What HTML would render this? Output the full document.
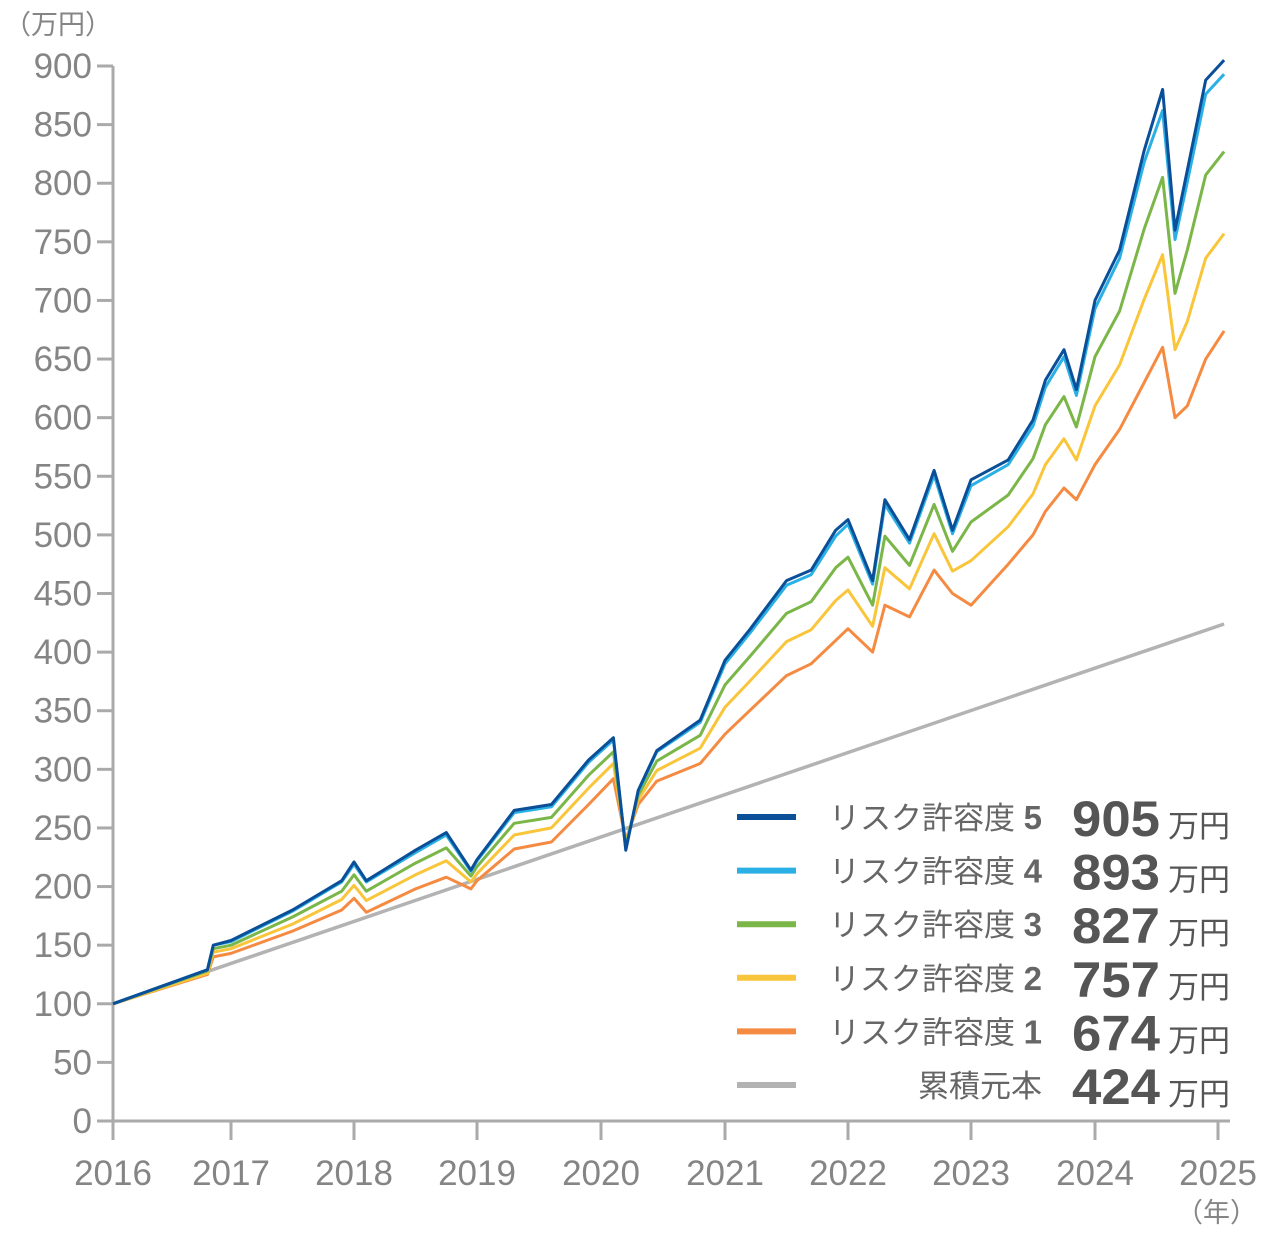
<!DOCTYPE html>
<html><head><meta charset="utf-8">
<style>
html,body{margin:0;padding:0;background:#fff;}
svg{display:block;font-family:"Liberation Sans","Noto Sans CJK JP",sans-serif;}
</style></head>
<body>
<svg id="chart" width="1280" height="1240" viewBox="0 0 1280 1240" xmlns="http://www.w3.org/2000/svg">
<g id="axes"></g>
<g id="series"></g>
<g id="legend"></g>
</svg>
<script>
const times=[2016.0,2016.8,2016.85,2017.0,2017.5,2017.9,2018.0,2018.1,2018.5,2018.75,2018.95,2019.0,2019.3,2019.6,2019.9,2020.1,2020.2,2020.3,2020.45,2020.8,2021.0,2021.2,2021.5,2021.7,2021.9,2022.0,2022.2,2022.3,2022.5,2022.7,2022.85,2023.0,2023.3,2023.5,2023.6,2023.75,2023.85,2024.0,2024.2,2024.4,2024.55,2024.65,2024.75,2024.9,2025.05];
const risk5=[100,129,150,154,180,205,221,205,231,246,214,223,265,270,308,327,231,282,316,342,393,419,461,470,504,513,461,530,496,555,504,547,564,598,632,658,624,700,743,828,880,760,811,888,905];
const risk4=[100,129,150,153,179,204,219,204,229,244,213,222,263,268,306,325,232,281,315,340,390,416,457,466,499,509,458,526,493,551,501,542,560,593,626,652,619,693,736,818,862,752,801,876,893];
const risk3=[100,128,147,150,174,196,210,196,220,233,209,217,254,259,295,315,235,278,307,329,372,396,433,443,472,481,440,499,474,526,486,511,534,565,594,618,592,652,691,761,805,706,743,807,827];
const risk2=[100,126,144,147,168,189,201,188,210,222,204,211,244,250,284,305,238,274,299,318,353,375,409,419,444,453,422,472,454,501,469,478,507,535,560,582,564,610,645,701,739,658,682,736,757];
const risk1=[100,125,140,143,162,180,190,178,198,208,198,205,232,238,270,292,240,270,290,305,330,350,380,390,410,420,400,440,430,470,450,440,475,500,520,540,530,560,590,630,660,600,610,650,674];
const principalTimes=[2016.0,2025.05];
const principal=[100,424];
const yTicks=[0,50,100,150,200,250,300,350,400,450,500,550,600,650,700,750,800,850,900];
const xTicks=[2016,2017,2018,2019,2020,2021,2022,2023,2024,2025];
const legendLabels=["リスク許容度 ","リスク許容度 ","リスク許容度 ","リスク許容度 ","リスク許容度 ","累積元本"];
const legendLevels=["5","4","3","2","1",""];
const legendValues=["905","893","827","757","674","424"];

const NS="http://www.w3.org/2000/svg";
const tickPx=[113,231,354,477,601,725,848,971,1095,1218];
function X(t){
  let i=Math.floor(t-2016);
  if(i<0)i=0; if(i>tickPx.length-2)i=tickPx.length-2;
  const f=t-2016-i;
  return tickPx[i]+f*(tickPx[i+1]-tickPx[i]);
}
function Y(v){return 1121-v*(1055/900);}
function mk(tag,attrs,parent){const e=document.createElementNS(NS,tag);for(const k in attrs)e.setAttribute(k,attrs[k]);parent.appendChild(e);return e;}

const axes=document.getElementById('axes');
const yl=mk('line',{x1:113,y1:66,x2:113,y2:1121,stroke:'#aaa','stroke-width':3},axes);


const xl=mk('line',{x1:113,y1:1121,x2:1230,y2:1121,stroke:'#aaa','stroke-width':3},axes);


yTicks.forEach(v=>{
  const t=mk('line',{x1:97,y1:Y(v),x2:113,y2:Y(v),stroke:'#aaa','stroke-width':3},axes);
  
  
  const l=mk('text',{x:92,y:Y(v)+12,'text-anchor':'end','font-size':35,fill:'#858585'},axes);
  l.textContent=v;
  
  
});
xTicks.forEach(v=>{
  const t=mk('line',{x1:X(v),y1:1121,x2:X(v),y2:1140,stroke:'#aaa','stroke-width':3},axes);
  
  
  const l=mk('text',{x:X(v),y:1185,'text-anchor':'middle','font-size':35,fill:'#858585'},axes);
  l.textContent=v;
  
  
});
const yt=mk('text',{x:4,y:34,'font-size':27,fill:'#858585'},axes);
yt.textContent='（万円）';


const xt=mk('text',{x:1176,y:1222,'font-size':27,fill:'#858585'},axes);
xt.textContent='（年）';



const series=document.getElementById('series');
function path(ts,vs){return ts.map((t,i)=>(i?'L':'M')+X(t).toFixed(1)+','+Y(vs[i]).toFixed(1)).join(' ');}
const pp=mk('path',{d:path(principalTimes,principal),fill:'none',stroke:'#b3b3b3','stroke-width':3.5},series);


const defs=[[risk1,'#f58b42','risk-1-line'],[risk2,'#f9c53a','risk-2-line'],[risk3,'#7ab648','risk-3-line'],[risk4,'#2bb0e5','risk-4-line'],[risk5,'#0a4f98','risk-5-line']];
defs.forEach(d=>{
  const p=mk('path',{d:path(times,d[0]),fill:'none',stroke:d[1],'stroke-width':3,'stroke-linejoin':'round'},series);
  
  
});

const legend=document.getElementById('legend');
const lcolors=['#0a4f98','#2bb0e5','#7ab648','#f9c53a','#f58b42','#b3b3b3'];
legendLabels.forEach((lab,i)=>{
  const y=817+i*53.6;
  const g=mk('g',{},legend);
  
  
  mk('line',{x1:737,y1:y,x2:796,y2:y,stroke:lcolors[i],'stroke-width':6},g);
  const t=mk('text',{x:1042,y:y+12,'text-anchor':'end','font-size':31,fill:'#666'},g);
  t.textContent=lab;
  if(legendLevels[i]){
    const b=mk('tspan',{'font-weight':'bold','font-size':33},t);
    b.textContent=legendLevels[i];
  }
  const v=mk('text',{x:1072,y:y+19,'font-size':50,'font-weight':'bold',fill:'#555',textLength:88,lengthAdjust:'spacingAndGlyphs'},g);
  v.textContent=legendValues[i];
  const u=mk('text',{x:1168,y:y+20,'font-size':31,fill:'#555'},g);
  u.textContent='万円';
});
</script>
</body></html>
